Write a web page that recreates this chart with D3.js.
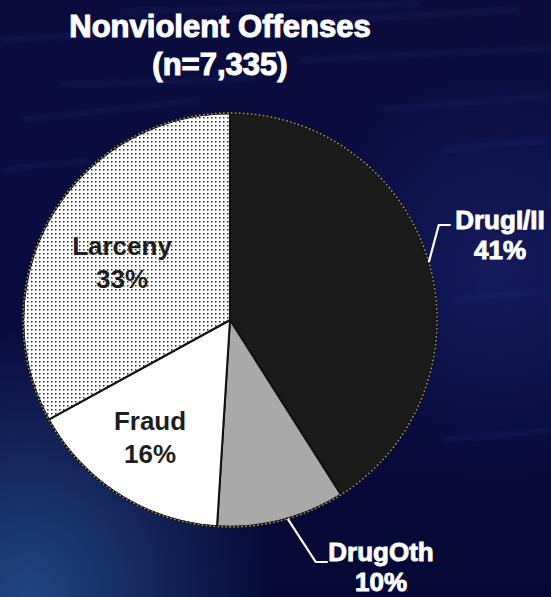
<!DOCTYPE html>
<html>
<head>
<meta charset="utf-8">
<script src="https://cdn.jsdelivr.net/npm/d3@7"></script>
<style>
html,body{margin:0;padding:0;background:#07083a;}
svg{display:block;}
</style>
</head>
<body>
<svg id="chart" width="551" height="597"></svg>
<script>
// ---- data ----
const categories = ["DrugI/II", "DrugOth", "Fraud", "Larceny"];
const values = [41, 10, 16, 33];
const percentLabels = ["41%", "10%", "16%", "33%"];
const titleLines = ["Nonviolent Offenses", "(n=7,335)"];

// ---- styles ----
const W = 551, H = 597;
const cx = 230, cy = 320, R = 207;
const fills = ["#1b1b1b", "#a9a9a9", "#ffffff", "url(#dots)"];

const svg = d3.select("#chart");
const defs = svg.append("defs");

// background
const bg = defs.append("linearGradient").attr("id", "bgGrad")
  .attr("x1", 0).attr("y1", 0).attr("x2", 0).attr("y2", 1);
bg.append("stop").attr("offset", "0%").attr("stop-color", "#0b0c3c");
bg.append("stop").attr("offset", "45%").attr("stop-color", "#0a0c40");
bg.append("stop").attr("offset", "100%").attr("stop-color", "#060834");

const glow = defs.append("radialGradient").attr("id", "glowBL")
  .attr("cx", 0.05).attr("cy", 1.0).attr("r", 0.45);
glow.append("stop").attr("offset", "0%").attr("stop-color", "#27508f").attr("stop-opacity", 0.85);
glow.append("stop").attr("offset", "100%").attr("stop-color", "#27508f").attr("stop-opacity", 0);

const glow2 = defs.append("radialGradient").attr("id", "glowR")
  .attr("cx", 0.9).attr("cy", 0.45).attr("r", 0.35);
glow2.append("stop").attr("offset", "0%").attr("stop-color", "#1c2670").attr("stop-opacity", 0.6);
glow2.append("stop").attr("offset", "100%").attr("stop-color", "#1c2670").attr("stop-opacity", 0);

defs.append("filter").attr("id", "blur").append("feGaussianBlur").attr("stdDeviation", 3);

// dotted pattern for Larceny
const pat = defs.append("pattern").attr("id", "dots")
  .attr("patternUnits", "userSpaceOnUse").attr("width", 4).attr("height", 4);
pat.append("rect").attr("width", 4).attr("height", 4).attr("fill", "#ffffff");
pat.append("rect").attr("x", 1).attr("y", 1).attr("width", 1.5).attr("height", 1.5).attr("fill", "#2a2a2a");

svg.append("rect").attr("width", W).attr("height", H).attr("fill", "url(#bgGrad)");
svg.append("rect").attr("width", W).attr("height", H).attr("fill", "url(#glowR)");
svg.append("rect").attr("width", W).attr("height", H).attr("fill", "url(#glowBL)");

// decorative streaks
const streaks = [
  [0, 40, 180, 30], [120, 12, 420, 4], [300, 60, 551, 48], [20, 120, 200, 100],
  [380, 110, 551, 95], [0, 170, 90, 160], [440, 150, 551, 140], [60, 85, 260, 78],
  [330, 20, 520, 10], [450, 300, 551, 290], [440, 440, 551, 430]
];
svg.append("g").attr("filter", "url(#blur)")
  .selectAll("line").data(streaks).join("line")
  .attr("x1", d => d[0]).attr("y1", d => d[1]).attr("x2", d => d[2]).attr("y2", d => d[3])
  .attr("stroke", "#24307a").attr("stroke-width", 3).attr("stroke-opacity", 0.4);

// ---- title ----
const title = svg.append("g").attr("font-family", "'Liberation Sans', Arial, sans-serif")
  .attr("font-weight", "bold").attr("font-size", 31).attr("fill", "#ffffff")
  .attr("stroke", "#ffffff").attr("stroke-width", 1.1).attr("text-anchor", "middle");
title.selectAll("text").data(titleLines).join("text")
  .attr("x", 220).attr("y", (d, i) => 37 + i * 38).text(d => d);

// ---- pie ----
const pie = d3.pie().sort(null).value(d => d.v).startAngle(0).endAngle(2 * Math.PI);
const data = categories.map((c, i) => ({ c, v: values[i], p: percentLabels[i], f: fills[i] }));
const arcs = pie(data);
const arc = d3.arc().innerRadius(0).outerRadius(R);

const g = svg.append("g").attr("transform", `translate(${cx},${cy})`);
g.selectAll("path.slice").data(arcs).join("path").attr("class", "slice")
  .attr("d", arc).attr("fill", d => d.data.f)
  .attr("stroke", "#111").attr("stroke-width", 2).attr("stroke-linejoin", "round");

// outer rim: dark line with light dashes
g.append("circle").attr("r", R).attr("fill", "none").attr("stroke", "#141414").attr("stroke-width", 2.5);
g.append("circle").attr("r", R).attr("fill", "none").attr("stroke", "#9a9a9a")
  .attr("stroke-width", 1.4).attr("stroke-dasharray", "1.6,2.4");

// inside labels (Larceny, Fraud)
const insidePos = { "Fraud": [150 - cx, 430 - cy], "Larceny": [122 - cx, 255 - cy] };
const inside = g.selectAll("g.inlab").data(arcs.filter(d => insidePos[d.data.c])).join("g")
  .attr("class", "inlab")
  .attr("font-family", "'Liberation Sans', Arial, sans-serif").attr("font-weight", "bold")
  .attr("font-size", 26).attr("fill", "#1e1e1e").attr("text-anchor", "middle");
inside.append("text").attr("x", d => insidePos[d.data.c][0]).attr("y", d => insidePos[d.data.c][1])
  .text(d => d.data.c);
inside.append("text").attr("x", d => insidePos[d.data.c][0]).attr("y", d => insidePos[d.data.c][1] + 33)
  .text(d => d.data.p);

// outside labels with leader lines (DrugI/II, DrugOth)
const outsidePos = { "DrugI/II": [500, 229], "DrugOth": [381, 561] };
const outArcs = arcs.filter(d => outsidePos[d.data.c]);
function leader(d) {
  const f = d.data.c === "DrugI/II" ? 0.5 : 0.45;
  const a = d.startAngle + (d.endAngle - d.startAngle) * f;
  const rim = [cx + R * Math.sin(a), cy - R * Math.cos(a)];
  if (d.data.c === "DrugI/II") {
    const ey = outsidePos[d.data.c][1] - 4;
    return [rim, [rim[0] + 10, ey], [rim[0] + 22, ey]];
  } else {
    const ey = outsidePos[d.data.c][1] + 1;
    return [rim, [rim[0] + 28, ey], [rim[0] + 40, ey]];
  }
}
svg.selectAll("path.leader").data(outArcs).join("path").attr("class", "leader")
  .attr("d", d => d3.line()(leader(d)))
  .attr("fill", "none").attr("stroke", "#ffffff").attr("stroke-width", 2.2);

const outside = svg.selectAll("g.outlab").data(outArcs).join("g").attr("class", "outlab")
  .attr("font-family", "'Liberation Sans', Arial, sans-serif").attr("font-weight", "bold")
  .attr("font-size", 26).attr("fill", "#ffffff").attr("stroke", "#ffffff").attr("stroke-width", 0.9)
  .attr("text-anchor", "middle");
outside.append("text").attr("x", d => outsidePos[d.data.c][0]).attr("y", d => outsidePos[d.data.c][1])
  .text(d => d.data.c);
outside.append("text").attr("x", d => outsidePos[d.data.c][0]).attr("y", d => outsidePos[d.data.c][1] + 30)
  .text(d => d.data.p);
</script>
</body>
</html>
